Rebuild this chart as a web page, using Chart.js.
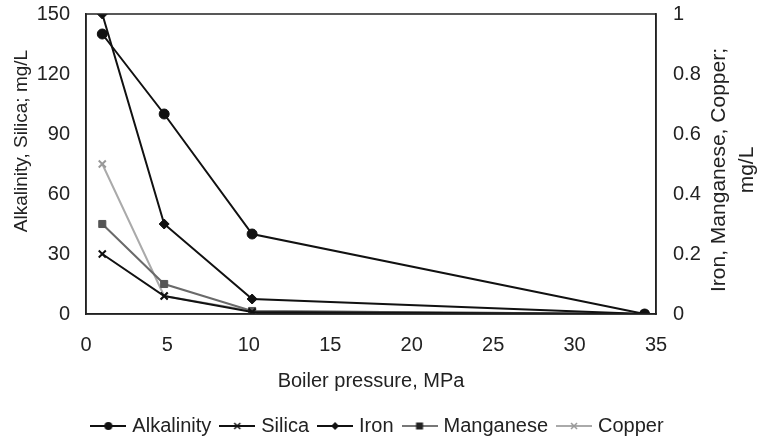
<!DOCTYPE html>
<html>
<head>
<meta charset="utf-8">
<script src="https://cdn.jsdelivr.net/npm/chart.js@4"></script>
<style>
  html, body { margin: 0; padding: 0; background: #fff; }
  #wrap { width: 758px; height: 439px; position: relative; }
</style>
</head>
<body>
<div id="wrap"><canvas id="chart"></canvas></div>
<script>
const pressure = [1, 4.8, 10.2, 34.3];
const alkalinity = [140, 100, 40, 0];
const silica = [30, 9, 1, 0];
const iron = [1.0, 0.3, 0.05, 0];
const manganese = [0.3, 0.1, 0.01, 0];
const copper = [0.5, 0.06, 0.01, 0];

const xTicks = [0, 5, 10, 15, 20, 25, 30, 35];
const leftTicks = [0, 30, 60, 90, 120, 150];
const rightTicks = [0, 0.2, 0.4, 0.6, 0.8, 1];

const FONT = 'Liberation Sans, Arial, sans-serif';

function pts(ys) {
  return pressure.map((x, i) => ({ x: x, y: ys[i] }));
}

// small legend icon: line with marker in the middle
function makeIcon(lineColor, markColor, shape) {
  const c = document.createElement('canvas');
  c.width = 36; c.height = 14;
  const g = c.getContext('2d');
  g.strokeStyle = lineColor;
  g.lineWidth = 2;
  g.beginPath(); g.moveTo(0, 7); g.lineTo(36, 7); g.stroke();
  g.fillStyle = markColor;
  g.strokeStyle = markColor;
  if (shape === 'circle') {
    g.beginPath(); g.arc(18, 7, 4, 0, Math.PI * 2); g.fill();
  } else if (shape === 'diamond') {
    g.beginPath(); g.moveTo(18, 3); g.lineTo(22, 7); g.lineTo(18, 11); g.lineTo(14, 7); g.closePath(); g.fill();
  } else if (shape === 'rect') {
    g.fillRect(14.5, 3.5, 7, 7);
  } else {
    g.lineWidth = 1.5;
    g.beginPath(); g.moveTo(15, 4); g.lineTo(21, 10); g.moveTo(21, 4); g.lineTo(15, 10); g.stroke();
  }
  return c;
}

const icons = [
  makeIcon('#111', '#111', 'circle'),
  makeIcon('#111', '#111', 'cross'),
  makeIcon('#111', '#111', 'diamond'),
  makeIcon('#777', '#222', 'rect'),
  makeIcon('#aaa', '#999', 'cross')
];

const frame = {
  id: 'frame',
  afterDraw(chart) {
    const { ctx, chartArea: a } = chart;
    ctx.save();
    ctx.strokeStyle = '#222';
    ctx.lineWidth = 1.5;
    ctx.strokeRect(a.left, a.top, a.right - a.left, a.bottom - a.top);

    ctx.fillStyle = '#222';
    ctx.textAlign = 'center';
    ctx.textBaseline = 'middle';
    // left title
    ctx.font = '19px ' + FONT;
    ctx.save();
    ctx.translate(22, 141);
    ctx.rotate(-Math.PI / 2);
    ctx.fillText('Alkalinity, Silica; mg/L', 0, 0);
    ctx.restore();
    // right title, two lines
    ctx.font = '21px ' + FONT;
    ctx.save();
    ctx.translate(719, 170);
    ctx.rotate(-Math.PI / 2);
    ctx.fillText('Iron, Manganese, Copper;', 0, 0);
    ctx.fillText('mg/L', 0, 28);
    ctx.restore();
    ctx.restore();
  }
};

new Chart(document.getElementById('chart'), {
  type: 'line',
  data: {
    datasets: [
      {
        label: 'Alkalinity',
        data: pts(alkalinity),
        yAxisID: 'y',
        borderColor: '#111',
        backgroundColor: '#111',
        pointStyle: 'circle',
        pointRadius: 5
      },
      {
        label: 'Silica',
        data: pts(silica),
        yAxisID: 'y',
        borderColor: '#111',
        backgroundColor: '#111',
        pointStyle: 'crossRot',
        pointRadius: 5,
        pointBorderWidth: 2
      },
      {
        label: 'Iron',
        data: pts(iron),
        yAxisID: 'y1',
        borderColor: '#111',
        backgroundColor: '#111',
        pointStyle: 'rectRot',
        pointRadius: 5
      },
      {
        label: 'Manganese',
        data: pts(manganese),
        yAxisID: 'y1',
        borderColor: '#6a6a6a',
        backgroundColor: '#555',
        pointBorderColor: '#555',
        pointStyle: 'rect',
        pointRadius: 5
      },
      {
        label: 'Copper',
        data: pts(copper),
        yAxisID: 'y1',
        borderColor: '#aaa',
        backgroundColor: '#999',
        pointBorderColor: '#999',
        pointStyle: 'crossRot',
        pointRadius: 5,
        pointBorderWidth: 2
      }
    ]
  },
  options: {
    responsive: true,
    maintainAspectRatio: false,
    animation: false,
    layout: { padding: { top: 14, left: 0, right: 0, bottom: -7 } },
    elements: { line: { borderWidth: 2, tension: 0 } },
    plugins: {
      tooltip: { enabled: false },
      legend: {
        position: 'bottom',
        labels: {
          usePointStyle: true,
          pointStyleWidth: 28,
          padding: 12,
          color: '#222',
          font: { family: FONT, size: 20 },
          generateLabels(chart) {
            const items = Chart.defaults.plugins.legend.labels.generateLabels(chart);
            items.forEach((it, i) => { it.pointStyle = icons[i]; });
            return items;
          }
        }
      }
    },
    scales: {
      x: {
        type: 'linear',
        min: 0,
        max: 35,
        afterBuildTicks(s) { s.ticks = xTicks.map(v => ({ value: v })); },
        grid: { display: false, drawTicks: false },
        border: { display: true, color: '#222', width: 1.5 },
        ticks: { color: '#222', padding: 19, font: { family: FONT, size: 20 } },
        title: {
          display: true,
          text: 'Boiler pressure, MPa',
          color: '#222',
          font: { family: FONT, size: 20 },
          padding: { top: 10, bottom: 11 }
        },
        afterFit(s) { s.height = 90; }
      },
      y: {
        position: 'left',
        min: 0,
        max: 150,
        afterBuildTicks(s) { s.ticks = leftTicks.map(v => ({ value: v })); },
        grid: { display: false, drawTicks: false },
        border: { display: true, color: '#222', width: 1.5 },
        ticks: { color: '#222', padding: 16, font: { family: FONT, size: 20 } },
        afterFit(s) { s.width = 86; s.paddingTop = 0; s.paddingBottom = 0; }
      },
      y1: {
        position: 'right',
        min: 0,
        max: 1,
        afterBuildTicks(s) { s.ticks = rightTicks.map(v => ({ value: v })); },
        grid: { display: false, drawTicks: false },
        border: { display: true, color: '#222', width: 1.5 },
        ticks: {
          color: '#222',
          padding: 17,
          font: { family: FONT, size: 20 },
          callback: v => String(v)
        },
        afterFit(s) { s.width = 102; s.paddingTop = 0; s.paddingBottom = 0; }
      }
    }
  },
  plugins: [frame]
});
</script>
</body>
</html>
